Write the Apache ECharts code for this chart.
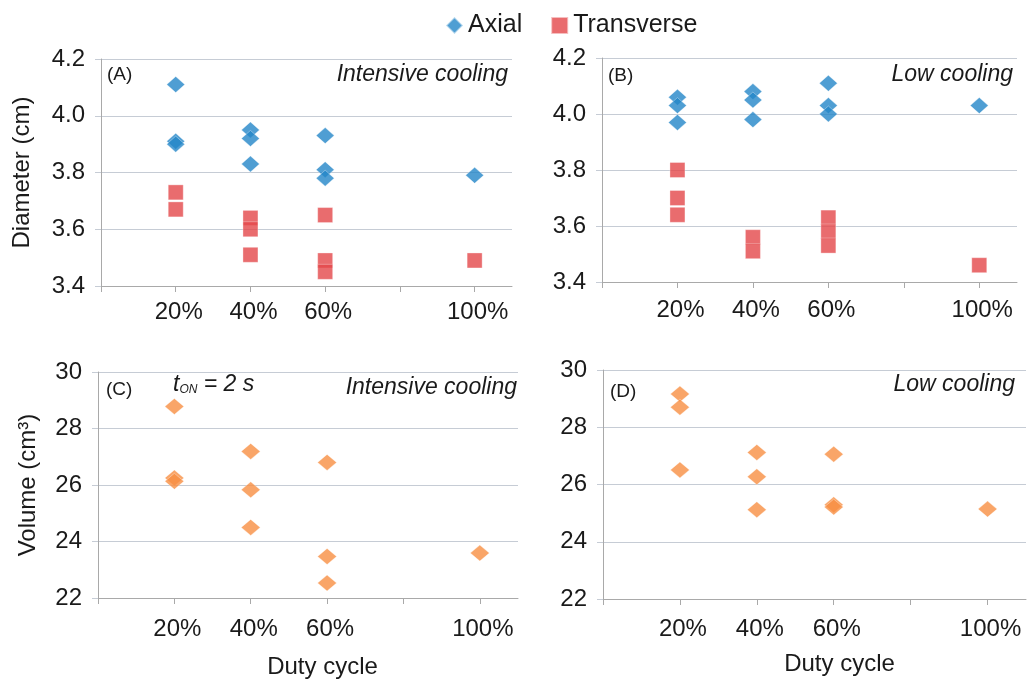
<!DOCTYPE html>
<html>
<head>
<meta charset="utf-8">
<script src="https://cdn.jsdelivr.net/npm/echarts@6/dist/echarts.min.js"></script>
<style>html,body{margin:0;padding:0;background:#fff}#c{width:1027px;height:682px}</style>
</head>
<body>
<div id="c"></div>
<script>
// ---- data ----
const dutyA_axial = [20,20,20,40,40,40,60,60,60,100];
const diamA_axial = [4.11,3.91,3.90,3.95,3.92,3.83,3.93,3.81,3.78,3.79];
const dutyA_trans = [20,20,40,40,40,60,60,60,100];
const diamA_trans = [3.73,3.67,3.64,3.60,3.51,3.65,3.49,3.45,3.49];
const dutyB_axial = [20,20,20,40,40,40,60,60,60,100];
const diamB_axial = [4.06,4.03,3.97,4.08,4.05,3.98,4.11,4.03,4.00,4.03];
const dutyB_trans = [20,20,20,40,40,60,60,60,100];
const diamB_trans = [3.80,3.70,3.64,3.56,3.51,3.63,3.58,3.53,3.46];
const dutyC = [20,20,20,40,40,40,60,60,60,100];
const volC = [28.78,26.25,26.13,27.19,25.83,24.50,26.80,23.47,22.53,23.59];
const dutyD = [20,20,20,40,40,40,60,60,60,100];
const volD = [29.16,28.70,26.51,27.12,26.27,25.12,27.06,25.29,25.21,25.14];
const xTickValues = [0,20,40,60,80,100];
const xLabelValues = [20,40,60,100];
const panelLabels = ['(A)','(B)','(C)','(D)'];
const coolingLabels = ['Intensive cooling','Low cooling','Intensive cooling','Low cooling'];

const FONT = "'Liberation Sans', Arial, sans-serif";
const TXT = '#1a1a1a';
const BLUE = '#2386c8', RED = '#e4474a', ORANGE = '#f78e42';
const pair = (xs, ys) => xs.map((x, i) => [x, ys[i]]);

const grids = [
  {left:101, top:59, width:411, height:227},
  {left:602, top:58, width:415, height:224},
  {left:98, top:372, width:420, height:226},
  {left:603, top:370, width:423, height:229}
];
const labelMargins = [14, 16, 19, 18];

const xAxes = grids.map((g, i) => ({
  type:'value', gridIndex:i, min:0, max:110, interval:20,
  splitLine:{show:false},
  axisLine:{lineStyle:{color:'#a9a9a9', width:1}},
  axisTick:{show:true, length:6, customValues:xTickValues, lineStyle:{color:'#a9a9a9'}},
  axisLabel:{customValues:xLabelValues, formatter: v => v + '%', fontSize:24, color:TXT, fontFamily:FONT,
    margin:labelMargins[i], padding:[0,0,0,6]},
  name: i >= 2 ? 'Duty cycle' : '',
  nameLocation:'middle',
  nameGap: i === 2 ? 57 : 53,
  nameTextStyle:{fontSize:24, color:TXT, fontFamily:FONT, padding: i === 2 ? [0,0,0,29] : [0,0,0,50]}
}));

const yAxes = grids.map((g, i) => {
  const diam = i < 2;
  return {
    type:'value', gridIndex:i,
    min: diam ? 3.4 : 22, max: diam ? 4.2 : 30, interval: diam ? 0.2 : 2,
    axisLine:{show:true, lineStyle:{color:'#a9a9a9'}},
    axisTick:{show:true, length:6, lineStyle:{color:'#c6ccd5'}},
    splitLine:{show:true, lineStyle:{color:'#c6ccd5', width:1}},
    axisLabel:{fontSize:24, color:TXT, fontFamily:FONT, margin:16,
      formatter: v => diam ? v.toFixed(1) : String(Math.round(v))},
    name: i === 0 ? 'Diameter (cm)' : (i === 2 ? 'Volume (cm³)' : ''),
    nameLocation:'middle',
    nameGap: i === 0 ? 67 : 58,
    nameTextStyle:{fontSize:24, color:TXT, fontFamily:FONT}
  };
});

const itemBorder = {borderColor:'rgba(255,255,255,0.7)', borderWidth:0.6};
const series = [
  {name:'Axial', type:'scatter', xAxisIndex:0, yAxisIndex:0, symbol:'diamond', symbolSize:[18,16],
   itemStyle:Object.assign({color:BLUE}, itemBorder), data:pair(dutyA_axial, diamA_axial)},
  {name:'Transverse', type:'scatter', xAxisIndex:0, yAxisIndex:0, symbol:'rect', symbolSize:15,
   itemStyle:Object.assign({color:RED}, itemBorder), data:pair(dutyA_trans, diamA_trans)},
  {name:'Axial', type:'scatter', xAxisIndex:1, yAxisIndex:1, symbol:'diamond', symbolSize:[18,16],
   itemStyle:Object.assign({color:BLUE}, itemBorder), data:pair(dutyB_axial, diamB_axial)},
  {name:'Transverse', type:'scatter', xAxisIndex:1, yAxisIndex:1, symbol:'rect', symbolSize:15,
   itemStyle:Object.assign({color:RED}, itemBorder), data:pair(dutyB_trans, diamB_trans)},
  {name:'Volume C', type:'scatter', xAxisIndex:2, yAxisIndex:2, symbol:'diamond', symbolSize:[19,16],
   itemStyle:Object.assign({color:ORANGE}, itemBorder), data:pair(dutyC, volC)},
  {name:'Volume D', type:'scatter', xAxisIndex:3, yAxisIndex:3, symbol:'diamond', symbolSize:[19,16],
   itemStyle:Object.assign({color:ORANGE}, itemBorder), data:pair(dutyD, volD)}
];

const panelPos = [[107,65],[608,66],[106,380],[610,382]];
const coolPos = [[508,63],[1013,63],[517,376],[1015,373]];
const graphic = [];
panelLabels.forEach((t, i) => graphic.push({type:'text', x:panelPos[i][0], y:panelPos[i][1],
  style:{text:t, font:'19px ' + FONT, fill:TXT}}));
coolingLabels.forEach((t, i) => graphic.push({type:'text', x:coolPos[i][0], y:coolPos[i][1],
  style:{text:t, font:'italic 23px ' + FONT, fill:TXT, align:'right'}}));
graphic.push({type:'text', x:173, y:373, style:{
  text:'{i|t}{s|ON}{i| = 2 s}', fill:TXT,
  rich:{i:{fontSize:23, fontStyle:'italic', fontFamily:FONT, fill:TXT, verticalAlign:'bottom'},
        s:{fontSize:12, fontStyle:'italic', fontFamily:FONT, fill:TXT, padding:[9,0,0,0], verticalAlign:'bottom'}}}});

const chart = echarts.init(document.getElementById('c'), null, {renderer:'canvas'});
chart.setOption({
  animation:false,
  backgroundColor:'#fff',
  legend:{data:[{name:'Axial', icon:'diamond'},{name:'Transverse', icon:'rect'}],
    left:440, top:8, itemWidth:17, itemHeight:17, itemGap:28,
    textStyle:{fontSize:25, color:TXT, fontFamily:FONT}},
  grid:grids,
  xAxis:xAxes,
  yAxis:yAxes,
  series:series,
  graphic:graphic
});
</script>
</body>
</html>
